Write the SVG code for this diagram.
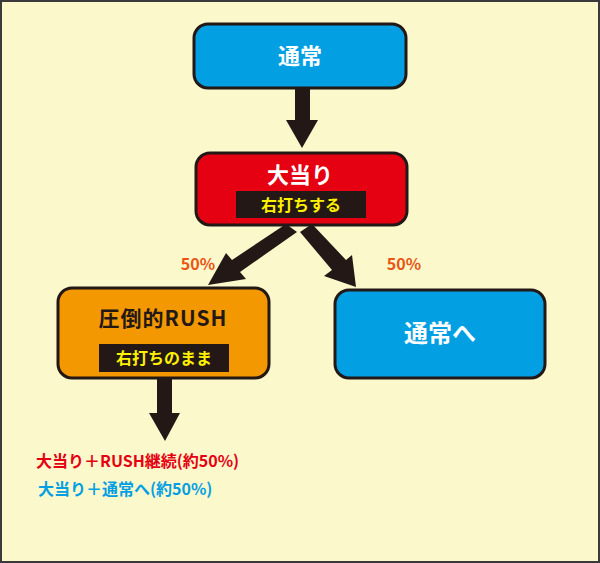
<svg xmlns="http://www.w3.org/2000/svg" width="600" height="563" viewBox="0 0 600 563">
<style>
.box{stroke:#231815;stroke-width:3}
.t{font-family:"Noto Sans CJK JP","Noto Sans",sans-serif;font-weight:bold}
.ar{fill:#231815}
</style>
<rect x="1" y="1" width="598" height="561" fill="#fbf8cc" stroke="#3a3a3a" stroke-width="2"/>
<g id="connectors" class="ar">
<polygon points="295,88 310,88 310,120 318,120 302,148 286,120 295,120"/>
<polygon points="286,224 297,232 240,272 246,279 208,285 226,253 232,260"/>
<polygon points="300,232 312,224 346,260 352,255 356,287 324,276 332,270"/>
<polygon points="157,378 172,378 172,413 180,413 165,441 149,413 157,413"/>
</g>
<g id="n1"><rect class="box" x="194" y="24" width="212" height="64" rx="14" fill="#039fe3"/>
<text class="t" x="300" y="64" font-size="22" fill="#fff" text-anchor="middle">通常</text></g>
<g id="n2"><rect class="box" x="196" y="153" width="211" height="72" rx="14" fill="#e50012"/>
<text class="t" x="300" y="183" font-size="22" fill="#fff" text-anchor="middle">大当り</text>
<rect x="236" y="191" width="130" height="27" fill="#231815"/>
<text class="t" x="301" y="211" font-size="16" fill="#fff100" text-anchor="middle">右打ちする</text></g>
<g id="n3"><rect class="box" x="58" y="288" width="211" height="90" rx="14" fill="#f39800"/>
<text class="t" x="163" y="326" font-size="21" fill="#231815" text-anchor="middle" letter-spacing="1">圧倒的RUSH</text>
<rect x="99" y="344" width="130" height="28" fill="#231815"/>
<text class="t" x="164" y="364" font-size="16" fill="#fff100" text-anchor="middle">右打ちのまま</text></g>
<g id="n4"><rect class="box" x="335" y="290" width="210" height="88" rx="14" fill="#039fe3"/>
<text class="t" x="440" y="342" font-size="24" fill="#fff" text-anchor="middle">通常へ</text></g>
<text class="t" x="198" y="270" font-size="16" fill="#ea5514" text-anchor="middle">50%</text>
<text class="t" x="404" y="270" font-size="16" fill="#ea5514" text-anchor="middle">50%</text>
<text class="t" x="36" y="467" font-size="16" fill="#e50012">大当り＋RUSH継続(約50%)</text>
<text class="t" x="38" y="495" font-size="16" fill="#039fe3">大当り＋通常へ(約50%)</text>
</svg>
